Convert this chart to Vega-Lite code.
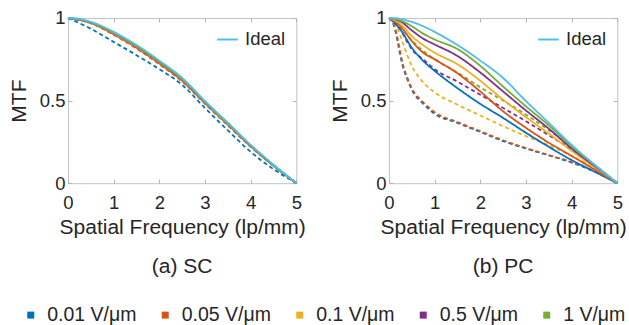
{
"$schema": "https://vega.github.io/schema/vega-lite/v6.json",
"padding": {"left": 7, "top": 8, "right": 0, "bottom": 0},
"spacing": 22,
"datasets": {
"ideal": [
{"n":"Ideal","x":0,"y":1},{"n":"Ideal","x":0.25,"y":0.995},{"n":"Ideal","x":0.5,"y":0.976},{"n":"Ideal","x":0.75,"y":0.95},{"n":"Ideal","x":1,"y":0.916},{"n":"Ideal","x":1.5,"y":0.836},{"n":"Ideal","x":2,"y":0.742},{"n":"Ideal","x":2.5,"y":0.637},{"n":"Ideal","x":3,"y":0.497},{"n":"Ideal","x":3.5,"y":0.365},{"n":"Ideal","x":4,"y":0.232},{"n":"Ideal","x":4.5,"y":0.112},{"n":"Ideal","x":5,"y":0}
],
"curves": [
{"p":"SC","s":"0.01 V/μm","d":"solid","x":0,"y":1},{"p":"SC","s":"0.01 V/μm","d":"solid","x":0.5,"y":0.972},{"p":"SC","s":"0.01 V/μm","d":"solid","x":1,"y":0.905},{"p":"SC","s":"0.01 V/μm","d":"solid","x":1.5,"y":0.825},{"p":"SC","s":"0.01 V/μm","d":"solid","x":2,"y":0.73},{"p":"SC","s":"0.01 V/μm","d":"solid","x":2.5,"y":0.625},{"p":"SC","s":"0.01 V/μm","d":"solid","x":3,"y":0.488},{"p":"SC","s":"0.01 V/μm","d":"solid","x":3.5,"y":0.358},{"p":"SC","s":"0.01 V/μm","d":"solid","x":4,"y":0.226},{"p":"SC","s":"0.01 V/μm","d":"solid","x":4.5,"y":0.108},{"p":"SC","s":"0.01 V/μm","d":"solid","x":5,"y":0},
{"p":"SC","s":"0.05 V/μm","d":"solid","x":0,"y":1},{"p":"SC","s":"0.05 V/μm","d":"solid","x":0.5,"y":0.97},{"p":"SC","s":"0.05 V/μm","d":"solid","x":1,"y":0.902},{"p":"SC","s":"0.05 V/μm","d":"solid","x":1.5,"y":0.82},{"p":"SC","s":"0.05 V/μm","d":"solid","x":2,"y":0.725},{"p":"SC","s":"0.05 V/μm","d":"solid","x":2.5,"y":0.62},{"p":"SC","s":"0.05 V/μm","d":"solid","x":3,"y":0.485},{"p":"SC","s":"0.05 V/μm","d":"solid","x":3.5,"y":0.355},{"p":"SC","s":"0.05 V/μm","d":"solid","x":4,"y":0.224},{"p":"SC","s":"0.05 V/μm","d":"solid","x":4.5,"y":0.107},{"p":"SC","s":"0.05 V/μm","d":"solid","x":5,"y":0},
{"p":"SC","s":"0.1 V/μm","d":"solid","x":0,"y":1},{"p":"SC","s":"0.1 V/μm","d":"solid","x":0.5,"y":0.973},{"p":"SC","s":"0.1 V/μm","d":"solid","x":1,"y":0.908},{"p":"SC","s":"0.1 V/μm","d":"solid","x":1.5,"y":0.828},{"p":"SC","s":"0.1 V/μm","d":"solid","x":2,"y":0.733},{"p":"SC","s":"0.1 V/μm","d":"solid","x":2.5,"y":0.628},{"p":"SC","s":"0.1 V/μm","d":"solid","x":3,"y":0.49},{"p":"SC","s":"0.1 V/μm","d":"solid","x":3.5,"y":0.36},{"p":"SC","s":"0.1 V/μm","d":"solid","x":4,"y":0.227},{"p":"SC","s":"0.1 V/μm","d":"solid","x":4.5,"y":0.108},{"p":"SC","s":"0.1 V/μm","d":"solid","x":5,"y":0},
{"p":"SC","s":"0.5 V/μm","d":"solid","x":0,"y":1},{"p":"SC","s":"0.5 V/μm","d":"solid","x":0.5,"y":0.974},{"p":"SC","s":"0.5 V/μm","d":"solid","x":1,"y":0.911},{"p":"SC","s":"0.5 V/μm","d":"solid","x":1.5,"y":0.831},{"p":"SC","s":"0.5 V/μm","d":"solid","x":2,"y":0.736},{"p":"SC","s":"0.5 V/μm","d":"solid","x":2.5,"y":0.631},{"p":"SC","s":"0.5 V/μm","d":"solid","x":3,"y":0.492},{"p":"SC","s":"0.5 V/μm","d":"solid","x":3.5,"y":0.362},{"p":"SC","s":"0.5 V/μm","d":"solid","x":4,"y":0.228},{"p":"SC","s":"0.5 V/μm","d":"solid","x":4.5,"y":0.109},{"p":"SC","s":"0.5 V/μm","d":"solid","x":5,"y":0},
{"p":"SC","s":"1 V/μm","d":"solid","x":0,"y":1},{"p":"SC","s":"1 V/μm","d":"solid","x":0.5,"y":0.974},{"p":"SC","s":"1 V/μm","d":"solid","x":1,"y":0.912},{"p":"SC","s":"1 V/μm","d":"solid","x":1.5,"y":0.832},{"p":"SC","s":"1 V/μm","d":"solid","x":2,"y":0.737},{"p":"SC","s":"1 V/μm","d":"solid","x":2.5,"y":0.632},{"p":"SC","s":"1 V/μm","d":"solid","x":3,"y":0.493},{"p":"SC","s":"1 V/μm","d":"solid","x":3.5,"y":0.363},{"p":"SC","s":"1 V/μm","d":"solid","x":4,"y":0.229},{"p":"SC","s":"1 V/μm","d":"solid","x":4.5,"y":0.109},{"p":"SC","s":"1 V/μm","d":"solid","x":5,"y":0},
{"p":"SC","s":"0.01 V/μm","d":"dashed","x":0,"y":1},{"p":"SC","s":"0.01 V/μm","d":"dashed","x":0.5,"y":0.935},{"p":"SC","s":"0.01 V/μm","d":"dashed","x":1,"y":0.855},{"p":"SC","s":"0.01 V/μm","d":"dashed","x":1.5,"y":0.775},{"p":"SC","s":"0.01 V/μm","d":"dashed","x":2,"y":0.69},{"p":"SC","s":"0.01 V/μm","d":"dashed","x":2.5,"y":0.595},{"p":"SC","s":"0.01 V/μm","d":"dashed","x":3,"y":0.455},{"p":"SC","s":"0.01 V/μm","d":"dashed","x":3.5,"y":0.32},{"p":"SC","s":"0.01 V/μm","d":"dashed","x":4,"y":0.19},{"p":"SC","s":"0.01 V/μm","d":"dashed","x":4.5,"y":0.085},{"p":"SC","s":"0.01 V/μm","d":"dashed","x":5,"y":0},
{"p":"SC","s":"0.05 V/μm","d":"dashed","x":0,"y":1},{"p":"SC","s":"0.05 V/μm","d":"dashed","x":0.5,"y":0.968},{"p":"SC","s":"0.05 V/μm","d":"dashed","x":1,"y":0.898},{"p":"SC","s":"0.05 V/μm","d":"dashed","x":1.5,"y":0.815},{"p":"SC","s":"0.05 V/μm","d":"dashed","x":2,"y":0.72},{"p":"SC","s":"0.05 V/μm","d":"dashed","x":2.5,"y":0.615},{"p":"SC","s":"0.05 V/μm","d":"dashed","x":3,"y":0.48},{"p":"SC","s":"0.05 V/μm","d":"dashed","x":3.5,"y":0.35},{"p":"SC","s":"0.05 V/μm","d":"dashed","x":4,"y":0.22},{"p":"SC","s":"0.05 V/μm","d":"dashed","x":4.5,"y":0.105},{"p":"SC","s":"0.05 V/μm","d":"dashed","x":5,"y":0},
{"p":"SC","s":"0.1 V/μm","d":"dashed","x":0,"y":1},{"p":"SC","s":"0.1 V/μm","d":"dashed","x":0.5,"y":0.971},{"p":"SC","s":"0.1 V/μm","d":"dashed","x":1,"y":0.905},{"p":"SC","s":"0.1 V/μm","d":"dashed","x":1.5,"y":0.824},{"p":"SC","s":"0.1 V/μm","d":"dashed","x":2,"y":0.729},{"p":"SC","s":"0.1 V/μm","d":"dashed","x":2.5,"y":0.624},{"p":"SC","s":"0.1 V/μm","d":"dashed","x":3,"y":0.486},{"p":"SC","s":"0.1 V/μm","d":"dashed","x":3.5,"y":0.357},{"p":"SC","s":"0.1 V/μm","d":"dashed","x":4,"y":0.225},{"p":"SC","s":"0.1 V/μm","d":"dashed","x":4.5,"y":0.107},{"p":"SC","s":"0.1 V/μm","d":"dashed","x":5,"y":0},
{"p":"SC","s":"0.5 V/μm","d":"dashed","x":0,"y":1},{"p":"SC","s":"0.5 V/μm","d":"dashed","x":0.5,"y":0.972},{"p":"SC","s":"0.5 V/μm","d":"dashed","x":1,"y":0.908},{"p":"SC","s":"0.5 V/μm","d":"dashed","x":1.5,"y":0.827},{"p":"SC","s":"0.5 V/μm","d":"dashed","x":2,"y":0.732},{"p":"SC","s":"0.5 V/μm","d":"dashed","x":2.5,"y":0.627},{"p":"SC","s":"0.5 V/μm","d":"dashed","x":3,"y":0.489},{"p":"SC","s":"0.5 V/μm","d":"dashed","x":3.5,"y":0.36},{"p":"SC","s":"0.5 V/μm","d":"dashed","x":4,"y":0.226},{"p":"SC","s":"0.5 V/μm","d":"dashed","x":4.5,"y":0.108},{"p":"SC","s":"0.5 V/μm","d":"dashed","x":5,"y":0},
{"p":"SC","s":"1 V/μm","d":"dashed","x":0,"y":1},{"p":"SC","s":"1 V/μm","d":"dashed","x":0.5,"y":0.973},{"p":"SC","s":"1 V/μm","d":"dashed","x":1,"y":0.91},{"p":"SC","s":"1 V/μm","d":"dashed","x":1.5,"y":0.83},{"p":"SC","s":"1 V/μm","d":"dashed","x":2,"y":0.735},{"p":"SC","s":"1 V/μm","d":"dashed","x":2.5,"y":0.63},{"p":"SC","s":"1 V/μm","d":"dashed","x":3,"y":0.491},{"p":"SC","s":"1 V/μm","d":"dashed","x":3.5,"y":0.361},{"p":"SC","s":"1 V/μm","d":"dashed","x":4,"y":0.227},{"p":"SC","s":"1 V/μm","d":"dashed","x":4.5,"y":0.108},{"p":"SC","s":"1 V/μm","d":"dashed","x":5,"y":0},
{"p":"PC","s":"0.01 V/μm","d":"dashed","x":0,"y":1},{"p":"PC","s":"0.01 V/μm","d":"dashed","x":0.05,"y":0.99},{"p":"PC","s":"0.01 V/μm","d":"dashed","x":0.1,"y":0.96},{"p":"PC","s":"0.01 V/μm","d":"dashed","x":0.15,"y":0.91},{"p":"PC","s":"0.01 V/μm","d":"dashed","x":0.2,"y":0.84},{"p":"PC","s":"0.01 V/μm","d":"dashed","x":0.25,"y":0.77},{"p":"PC","s":"0.01 V/μm","d":"dashed","x":0.3,"y":0.71},{"p":"PC","s":"0.01 V/μm","d":"dashed","x":0.4,"y":0.63},{"p":"PC","s":"0.01 V/μm","d":"dashed","x":0.5,"y":0.565},{"p":"PC","s":"0.01 V/μm","d":"dashed","x":0.75,"y":0.48},{"p":"PC","s":"0.01 V/μm","d":"dashed","x":1,"y":0.42},{"p":"PC","s":"0.01 V/μm","d":"dashed","x":1.5,"y":0.365},{"p":"PC","s":"0.01 V/μm","d":"dashed","x":2,"y":0.31},{"p":"PC","s":"0.01 V/μm","d":"dashed","x":2.5,"y":0.255},{"p":"PC","s":"0.01 V/μm","d":"dashed","x":3,"y":0.21},{"p":"PC","s":"0.01 V/μm","d":"dashed","x":3.5,"y":0.168},{"p":"PC","s":"0.01 V/μm","d":"dashed","x":4,"y":0.125},{"p":"PC","s":"0.01 V/μm","d":"dashed","x":4.5,"y":0.07},{"p":"PC","s":"0.01 V/μm","d":"dashed","x":5,"y":0},
{"p":"PC","s":"0.05 V/μm","d":"dashed","x":0,"y":1},{"p":"PC","s":"0.05 V/μm","d":"dashed","x":0.05,"y":0.992},{"p":"PC","s":"0.05 V/μm","d":"dashed","x":0.1,"y":0.965},{"p":"PC","s":"0.05 V/μm","d":"dashed","x":0.15,"y":0.925},{"p":"PC","s":"0.05 V/μm","d":"dashed","x":0.2,"y":0.86},{"p":"PC","s":"0.05 V/μm","d":"dashed","x":0.25,"y":0.79},{"p":"PC","s":"0.05 V/μm","d":"dashed","x":0.3,"y":0.725},{"p":"PC","s":"0.05 V/μm","d":"dashed","x":0.4,"y":0.64},{"p":"PC","s":"0.05 V/μm","d":"dashed","x":0.5,"y":0.575},{"p":"PC","s":"0.05 V/μm","d":"dashed","x":0.75,"y":0.49},{"p":"PC","s":"0.05 V/μm","d":"dashed","x":1,"y":0.43},{"p":"PC","s":"0.05 V/μm","d":"dashed","x":1.5,"y":0.37},{"p":"PC","s":"0.05 V/μm","d":"dashed","x":2,"y":0.315},{"p":"PC","s":"0.05 V/μm","d":"dashed","x":2.5,"y":0.26},{"p":"PC","s":"0.05 V/μm","d":"dashed","x":3,"y":0.213},{"p":"PC","s":"0.05 V/μm","d":"dashed","x":3.5,"y":0.17},{"p":"PC","s":"0.05 V/μm","d":"dashed","x":4,"y":0.128},{"p":"PC","s":"0.05 V/μm","d":"dashed","x":4.5,"y":0.072},{"p":"PC","s":"0.05 V/μm","d":"dashed","x":5,"y":0},
{"p":"PC","s":"0.1 V/μm","d":"dashed","x":0,"y":1},{"p":"PC","s":"0.1 V/μm","d":"dashed","x":0.1,"y":0.98},{"p":"PC","s":"0.1 V/μm","d":"dashed","x":0.2,"y":0.93},{"p":"PC","s":"0.1 V/μm","d":"dashed","x":0.3,"y":0.85},{"p":"PC","s":"0.1 V/μm","d":"dashed","x":0.4,"y":0.775},{"p":"PC","s":"0.1 V/μm","d":"dashed","x":0.5,"y":0.71},{"p":"PC","s":"0.1 V/μm","d":"dashed","x":0.75,"y":0.61},{"p":"PC","s":"0.1 V/μm","d":"dashed","x":1,"y":0.55},{"p":"PC","s":"0.1 V/μm","d":"dashed","x":1.5,"y":0.475},{"p":"PC","s":"0.1 V/μm","d":"dashed","x":2,"y":0.41},{"p":"PC","s":"0.1 V/μm","d":"dashed","x":2.5,"y":0.345},{"p":"PC","s":"0.1 V/μm","d":"dashed","x":3,"y":0.285},{"p":"PC","s":"0.1 V/μm","d":"dashed","x":3.5,"y":0.23},{"p":"PC","s":"0.1 V/μm","d":"dashed","x":4,"y":0.165},{"p":"PC","s":"0.1 V/μm","d":"dashed","x":4.5,"y":0.09},{"p":"PC","s":"0.1 V/μm","d":"dashed","x":5,"y":0},
{"p":"PC","s":"0.5 V/μm","d":"dashed","x":0,"y":1},{"p":"PC","s":"0.5 V/μm","d":"dashed","x":0.1,"y":0.99},{"p":"PC","s":"0.5 V/μm","d":"dashed","x":0.25,"y":0.93},{"p":"PC","s":"0.5 V/μm","d":"dashed","x":0.4,"y":0.855},{"p":"PC","s":"0.5 V/μm","d":"dashed","x":0.5,"y":0.81},{"p":"PC","s":"0.5 V/μm","d":"dashed","x":0.75,"y":0.75},{"p":"PC","s":"0.5 V/μm","d":"dashed","x":1,"y":0.69},{"p":"PC","s":"0.5 V/μm","d":"dashed","x":1.5,"y":0.615},{"p":"PC","s":"0.5 V/μm","d":"dashed","x":2,"y":0.535},{"p":"PC","s":"0.5 V/μm","d":"dashed","x":2.5,"y":0.455},{"p":"PC","s":"0.5 V/μm","d":"dashed","x":3,"y":0.375},{"p":"PC","s":"0.5 V/μm","d":"dashed","x":3.5,"y":0.29},{"p":"PC","s":"0.5 V/μm","d":"dashed","x":4,"y":0.205},{"p":"PC","s":"0.5 V/μm","d":"dashed","x":4.5,"y":0.105},{"p":"PC","s":"0.5 V/μm","d":"dashed","x":5,"y":0},
{"p":"PC","s":"1 V/μm","d":"dashed","x":0,"y":1},{"p":"PC","s":"1 V/μm","d":"dashed","x":0.1,"y":0.995},{"p":"PC","s":"1 V/μm","d":"dashed","x":0.25,"y":0.95},{"p":"PC","s":"1 V/μm","d":"dashed","x":0.4,"y":0.895},{"p":"PC","s":"1 V/μm","d":"dashed","x":0.5,"y":0.865},{"p":"PC","s":"1 V/μm","d":"dashed","x":0.75,"y":0.8},{"p":"PC","s":"1 V/μm","d":"dashed","x":1,"y":0.75},{"p":"PC","s":"1 V/μm","d":"dashed","x":1.5,"y":0.67},{"p":"PC","s":"1 V/μm","d":"dashed","x":2,"y":0.58},{"p":"PC","s":"1 V/μm","d":"dashed","x":2.5,"y":0.5},{"p":"PC","s":"1 V/μm","d":"dashed","x":3,"y":0.415},{"p":"PC","s":"1 V/μm","d":"dashed","x":3.5,"y":0.32},{"p":"PC","s":"1 V/μm","d":"dashed","x":4,"y":0.22},{"p":"PC","s":"1 V/μm","d":"dashed","x":4.5,"y":0.11},{"p":"PC","s":"1 V/μm","d":"dashed","x":5,"y":0},
{"p":"PC","s":"0.01 V/μm","d":"solid","x":0,"y":1},{"p":"PC","s":"0.01 V/μm","d":"solid","x":0.25,"y":0.93},{"p":"PC","s":"0.01 V/μm","d":"solid","x":0.5,"y":0.82},{"p":"PC","s":"0.01 V/μm","d":"solid","x":0.75,"y":0.74},{"p":"PC","s":"0.01 V/μm","d":"solid","x":1,"y":0.68},{"p":"PC","s":"0.01 V/μm","d":"solid","x":1.5,"y":0.575},{"p":"PC","s":"0.01 V/μm","d":"solid","x":2,"y":0.48},{"p":"PC","s":"0.01 V/μm","d":"solid","x":2.5,"y":0.395},{"p":"PC","s":"0.01 V/μm","d":"solid","x":3,"y":0.305},{"p":"PC","s":"0.01 V/μm","d":"solid","x":3.5,"y":0.22},{"p":"PC","s":"0.01 V/μm","d":"solid","x":4,"y":0.14},{"p":"PC","s":"0.01 V/μm","d":"solid","x":4.5,"y":0.07},{"p":"PC","s":"0.01 V/μm","d":"solid","x":5,"y":0},
{"p":"PC","s":"0.05 V/μm","d":"solid","x":0,"y":1},{"p":"PC","s":"0.05 V/μm","d":"solid","x":0.25,"y":0.95},{"p":"PC","s":"0.05 V/μm","d":"solid","x":0.5,"y":0.86},{"p":"PC","s":"0.05 V/μm","d":"solid","x":0.75,"y":0.79},{"p":"PC","s":"0.05 V/μm","d":"solid","x":1,"y":0.75},{"p":"PC","s":"0.05 V/μm","d":"solid","x":1.5,"y":0.665},{"p":"PC","s":"0.05 V/μm","d":"solid","x":2,"y":0.555},{"p":"PC","s":"0.05 V/μm","d":"solid","x":2.5,"y":0.435},{"p":"PC","s":"0.05 V/μm","d":"solid","x":3,"y":0.335},{"p":"PC","s":"0.05 V/μm","d":"solid","x":3.5,"y":0.245},{"p":"PC","s":"0.05 V/μm","d":"solid","x":4,"y":0.165},{"p":"PC","s":"0.05 V/μm","d":"solid","x":4.5,"y":0.083},{"p":"PC","s":"0.05 V/μm","d":"solid","x":5,"y":0},
{"p":"PC","s":"0.1 V/μm","d":"solid","x":0,"y":1},{"p":"PC","s":"0.1 V/μm","d":"solid","x":0.25,"y":0.965},{"p":"PC","s":"0.1 V/μm","d":"solid","x":0.5,"y":0.89},{"p":"PC","s":"0.1 V/μm","d":"solid","x":0.75,"y":0.835},{"p":"PC","s":"0.1 V/μm","d":"solid","x":1,"y":0.79},{"p":"PC","s":"0.1 V/μm","d":"solid","x":1.5,"y":0.72},{"p":"PC","s":"0.1 V/μm","d":"solid","x":2,"y":0.62},{"p":"PC","s":"0.1 V/μm","d":"solid","x":2.5,"y":0.505},{"p":"PC","s":"0.1 V/μm","d":"solid","x":3,"y":0.4},{"p":"PC","s":"0.1 V/μm","d":"solid","x":3.5,"y":0.3},{"p":"PC","s":"0.1 V/μm","d":"solid","x":4,"y":0.195},{"p":"PC","s":"0.1 V/μm","d":"solid","x":4.5,"y":0.098},{"p":"PC","s":"0.1 V/μm","d":"solid","x":5,"y":0},
{"p":"PC","s":"0.5 V/μm","d":"solid","x":0,"y":1},{"p":"PC","s":"0.5 V/μm","d":"solid","x":0.25,"y":0.98},{"p":"PC","s":"0.5 V/μm","d":"solid","x":0.5,"y":0.925},{"p":"PC","s":"0.5 V/μm","d":"solid","x":0.75,"y":0.875},{"p":"PC","s":"0.5 V/μm","d":"solid","x":1,"y":0.84},{"p":"PC","s":"0.5 V/μm","d":"solid","x":1.5,"y":0.77},{"p":"PC","s":"0.5 V/μm","d":"solid","x":2,"y":0.67},{"p":"PC","s":"0.5 V/μm","d":"solid","x":2.5,"y":0.555},{"p":"PC","s":"0.5 V/μm","d":"solid","x":3,"y":0.44},{"p":"PC","s":"0.5 V/μm","d":"solid","x":3.5,"y":0.33},{"p":"PC","s":"0.5 V/μm","d":"solid","x":4,"y":0.21},{"p":"PC","s":"0.5 V/μm","d":"solid","x":4.5,"y":0.105},{"p":"PC","s":"0.5 V/μm","d":"solid","x":5,"y":0},
{"p":"PC","s":"1 V/μm","d":"solid","x":0,"y":1},{"p":"PC","s":"1 V/μm","d":"solid","x":0.25,"y":0.985},{"p":"PC","s":"1 V/μm","d":"solid","x":0.5,"y":0.95},{"p":"PC","s":"1 V/μm","d":"solid","x":0.75,"y":0.905},{"p":"PC","s":"1 V/μm","d":"solid","x":1,"y":0.87},{"p":"PC","s":"1 V/μm","d":"solid","x":1.5,"y":0.812},{"p":"PC","s":"1 V/μm","d":"solid","x":2,"y":0.71},{"p":"PC","s":"1 V/μm","d":"solid","x":2.5,"y":0.585},{"p":"PC","s":"1 V/μm","d":"solid","x":3,"y":0.465},{"p":"PC","s":"1 V/μm","d":"solid","x":3.5,"y":0.35},{"p":"PC","s":"1 V/μm","d":"solid","x":4,"y":0.222},{"p":"PC","s":"1 V/μm","d":"solid","x":4.5,"y":0.112},{"p":"PC","s":"1 V/μm","d":"solid","x":5,"y":0}
]
},
"hconcat": [
{
"width": 228.3, "height": 165.2,
"title": {"text": "(a) SC"},
"layer": [
{"data": {"name": "curves"}, "transform": [{"filter": "datum.p == 'SC'"}],
 "mark": {"type": "line", "strokeWidth": 1.8, "interpolate": "monotone"},
 "encoding": {
  "x": {"field": "x", "type": "quantitative", "scale": {"domain": [0, 5], "nice": false}, "axis": {"orient": "bottom", "title": "Spatial Frequency (lp/mm)", "values": [0,1,2,3,4,5]}},
  "y": {"field": "y", "type": "quantitative", "scale": {"domain": [0, 1], "nice": false}, "axis": {"orient": "left", "title": "MTF", "values": [0,0.5,1], "format": "~g"}},
  "color": {"field": "s", "type": "nominal", "scale": {"domain": ["0.01 V/μm","0.05 V/μm","0.1 V/μm","0.5 V/μm","1 V/μm"], "range": ["#0072BD","#D95319","#EDB120","#7E2F8E","#77AC30"]},
   "legend": {"orient": "none", "legendX": -47, "legendY": 287, "direction": "horizontal", "columns": 5, "title": null, "symbolType": "square", "symbolSize": 49, "labelFontSize": 19.5, "labelOffset": 6.7, "columnPadding": 18.5, "encode": {"symbols": {"update": {"fill": {"scale": "color", "field": "value"}, "strokeWidth": {"value": 0}}}}}},
  "strokeDash": {"field": "d", "type": "nominal", "scale": {"domain": ["solid","dashed"], "range": [[1,0],[4,3]]}, "legend": null}
 }},
{"data": {"name": "ideal"},
 "mark": {"type": "line", "strokeWidth": 1.8, "interpolate": "monotone"},
 "encoding": {
  "x": {"field": "x", "type": "quantitative", "scale": {"domain": [0, 5], "nice": false}, "axis": {"orient": "top", "title": null, "labels": false, "values": [0,1,2,3,4,5]}},
  "y": {"field": "y", "type": "quantitative", "scale": {"domain": [0, 1], "nice": false}, "axis": {"orient": "right", "title": null, "labels": false, "values": [0,0.5,1]}},
  "stroke": {"field": "n", "type": "nominal", "scale": {"domain": ["Ideal"], "range": ["#4DBEEE"]},
   "legend": {"orient": "none", "legendX": 148, "legendY": 10, "title": null, "symbolType": "stroke", "symbolSize": 420, "symbolStrokeWidth": 2, "labelFontSize": 18.5, "labelOffset": 6}}
 }}
],
"resolve": {"axis": {"x": "independent", "y": "independent"}}
},
{
"width": 228.3, "height": 165.2,
"title": {"text": "(b) PC"},
"layer": [
{"data": {"name": "curves"}, "transform": [{"filter": "datum.p == 'PC'"}],
 "mark": {"type": "line", "strokeWidth": 1.8, "interpolate": "monotone"},
 "encoding": {
  "x": {"field": "x", "type": "quantitative", "scale": {"domain": [0, 5], "nice": false}, "axis": {"orient": "bottom", "title": "Spatial Frequency (lp/mm)", "values": [0,1,2,3,4,5]}},
  "y": {"field": "y", "type": "quantitative", "scale": {"domain": [0, 1], "nice": false}, "axis": {"orient": "left", "title": "MTF", "values": [0,0.5,1], "format": "~g"}},
  "color": {"field": "s", "type": "nominal", "scale": {"domain": ["0.01 V/μm","0.05 V/μm","0.1 V/μm","0.5 V/μm","1 V/μm"], "range": ["#0072BD","#D95319","#EDB120","#7E2F8E","#77AC30"]},
   "legend": {"orient": "none", "legendX": -47, "legendY": 287, "direction": "horizontal", "columns": 5, "title": null, "symbolType": "square", "symbolSize": 49, "labelFontSize": 19.5, "labelOffset": 6.7, "columnPadding": 18.5, "encode": {"symbols": {"update": {"fill": {"scale": "color", "field": "value"}, "strokeWidth": {"value": 0}}}}}},
  "strokeDash": {"field": "d", "type": "nominal", "scale": {"domain": ["solid","dashed"], "range": [[1,0],[4,3]]}, "legend": null}
 }},
{"data": {"name": "ideal"},
 "mark": {"type": "line", "strokeWidth": 1.8, "interpolate": "monotone"},
 "encoding": {
  "x": {"field": "x", "type": "quantitative", "scale": {"domain": [0, 5], "nice": false}, "axis": {"orient": "top", "title": null, "labels": false, "values": [0,1,2,3,4,5]}},
  "y": {"field": "y", "type": "quantitative", "scale": {"domain": [0, 1], "nice": false}, "axis": {"orient": "right", "title": null, "labels": false, "values": [0,0.5,1]}},
  "stroke": {"field": "n", "type": "nominal", "scale": {"domain": ["Ideal"], "range": ["#4DBEEE"]},
   "legend": {"orient": "none", "legendX": 148, "legendY": 10, "title": null, "symbolType": "stroke", "symbolSize": 420, "symbolStrokeWidth": 2, "labelFontSize": 18.5, "labelOffset": 6}}
 }}
],
"resolve": {"axis": {"x": "independent", "y": "independent"}}
}
],
"resolve": {"scale": {"stroke": "independent"}, "legend": {"stroke": "independent"}},
"config": {
 "font": "Liberation Sans",
 "view": {"stroke": "#c4c4c4", "strokeWidth": 1},
 "axis": {"domain": false, "grid": false, "tickColor": "#b4b4b4", "tickSize": -4, "tickWidth": 1, "labelColor": "#262626", "titleColor": "#262626", "labelFontSize": 18.5, "titleFontSize": 21, "titleFontWeight": "normal", "labelFont": "Liberation Sans", "titleFont": "Liberation Sans", "labelFlush": false, "labelOverlap": false},
 "axisX": {"labelPadding": 14, "titlePadding": 5},
 "axisY": {"labelPadding": 7, "titlePadding": 10},
 "legend": {"labelFont": "Liberation Sans", "labelColor": "#262626"},
 "title": {"orient": "bottom", "offset": 18, "fontSize": 21, "fontWeight": "normal", "color": "#262626", "font": "Liberation Sans", "anchor": "middle"}
}
}
